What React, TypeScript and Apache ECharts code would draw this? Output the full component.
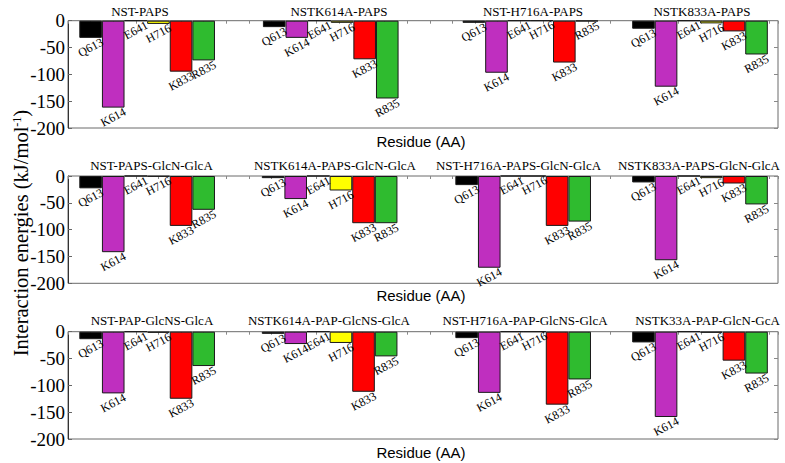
import React, { useEffect, useRef } from 'react';
import * as echarts from 'echarts';

// ---------- data ----------
const residues = ['Q613', 'K614', 'E641', 'H716', 'K833', 'R835'];

const row1Titles = ['NST-PAPS', 'NSTK614A-PAPS', 'NST-H716A-PAPS', 'NSTK833A-PAPS'];
const row2Titles = ['NST-PAPS-GlcN-GlcA', 'NSTK614A-PAPS-GlcN-GlcA', 'NST-H716A-PAPS-GlcN-GlcA', 'NSTK833A-PAPS-GlcN-GlcA'];
const row3Titles = ['NST-PAP-GlcNS-GlcA', 'NSTK614A-PAP-GlcNS-GlcA', 'NST-H716A-PAP-GlcNS-GlcA', 'NSTK33A-PAP-GlcN-GcA'];

// energies (kJ/mol) per panel, in residue order
const row1Values = [
  [-32, -162, 0, -6, -95, -74],
  [-12, -32, 0, -4, -72, -145],
  [-4, -97, 0, 0, -78, -1],
  [-15, -123, 0, -5, -20, -63],
];
const row2Values = [
  [-23, -142, 0, -1, -93, -63],
  [-4, -43, 0, -27, -88, -88],
  [-17, -171, 0, 0, -93, -85],
  [-12, -157, 0, -4, -14, -53],
];
const row3Values = [
  [-14, -115, 0, -2, -125, -64],
  [-4, -23, 0, -21, -112, -46],
  [-12, -114, 0, 0, -136, -89],
  [-20, -159, 0, -2, -54, -78],
];

// x position (residue-axis units) of first bar of each panel
const row1GroupX = [1, 9.12, 17.95, 25.45];
const row2GroupX = [1, 9.07, 17.63, 25.45];
const row3GroupX = [1, 9.07, 17.63, 25.45];

const yMin = -200;
const yMax = 0;
const yStep = 50;
const xMin = 0;
const xMax = 31.4;
const xLabel = 'Residue (AA)';
const yLabel = 'Interaction energies (kJ/mol{sup|-1})';

// ---------- styles / layout ----------
const residueColors = ['#000000', '#bf2fbf', '#3030ff', '#ffff00', '#ff0000', '#2fbb2f'];
const rowTops = [20.7, 176, 331.7];
const rowHeight = 107.3;
const titleYs = [11, 165, 320.5];
const titleXs = [
  [140, 339, 533, 702],
  [151.5, 335, 518.5, 699],
  [152, 329, 525, 707.5],
];
const xLabelYs = [141, 295.5, 452];
const SERIF = 'Liberation Serif';
const SANS = 'Liberation Sans';
const LABEL_ROT = (28 * Math.PI) / 180;

const rows = [
  { titles: row1Titles, values: row1Values, gx: row1GroupX },
  { titles: row2Titles, values: row2Values, gx: row2GroupX },
  { titles: row3Titles, values: row3Values, gx: row3GroupX },
];

function buildOption() {
  const grid: any[] = [];
  const xAxis: any[] = [];
  const yAxis: any[] = [];
  const series: any[] = [];
  const graphic: any[] = [];

  rows.forEach((row, r) => {
    grid.push({
      left: 68,
      width: 710,
      top: rowTops[r],
      height: rowHeight,
      show: true,
      borderColor: '#6a6a6a',
      borderWidth: 1,
      backgroundColor: 'transparent',
    });
    xAxis.push({
      type: 'value',
      gridIndex: r,
      min: xMin,
      max: xMax,
      interval: 1,
      axisLine: { show: false },
      axisTick: { show: true, inside: false, length: 3, lineStyle: { color: '#888' } },
      axisLabel: { show: false },
      splitLine: { show: false },
    });
    yAxis.push({
      type: 'value',
      gridIndex: r,
      min: yMin,
      max: yMax,
      interval: yStep,
      axisLine: { show: true, lineStyle: { color: '#333' } },
      axisTick: { show: true, inside: true, length: 4, lineStyle: { color: '#666' } },
      axisLabel: { show: true, fontFamily: SERIF, fontSize: 19, color: '#000', margin: 3 },
      splitLine: { show: false },
    });
    yAxis.push({
      type: 'value',
      gridIndex: r,
      position: 'right',
      min: yMin,
      max: yMax,
      interval: yStep,
      axisLine: { show: false },
      axisTick: { show: true, inside: true, length: 4, lineStyle: { color: '#888' } },
      axisLabel: { show: false },
      splitLine: { show: false },
    });

    const barData: any[] = [];
    row.values.forEach((vals, g) => {
      vals.forEach((v, k) => {
        barData.push({ value: [row.gx[g] + k, v], itemStyle: { color: residueColors[k] } });
      });
    });
    series.push({
      type: 'bar',
      xAxisIndex: r,
      yAxisIndex: r * 2,
      barWidth: 22.6,
      silent: true,
      z: 2,
      itemStyle: { borderColor: '#1a1a1a', borderWidth: 1 },
      data: barData,
    });

    row.titles.forEach((t, g) => {
      graphic.push({
        type: 'text',
        x: titleXs[r][g],
        y: titleYs[r],
        style: { text: t, fontFamily: SERIF, fontSize: 13, fill: '#000', align: 'center', verticalAlign: 'middle' },
      });
    });
    graphic.push({
      type: 'text',
      x: 421,
      y: xLabelYs[r],
      style: { text: xLabel, fontFamily: SANS, fontSize: 15, fill: '#000', align: 'center', verticalAlign: 'middle' },
    });
  });

  graphic.push({
    type: 'text',
    x: 21,
    y: 233,
    rotation: Math.PI / 2,
    style: {
      text: yLabel,
      fontFamily: SERIF,
      fontSize: 20.5,
      fill: '#000',
      align: 'center',
      verticalAlign: 'middle',
      rich: {
        sup: { fontSize: 12, fontFamily: SERIF, verticalAlign: 'top', fill: '#000' },
      },
    },
  });

  return { animation: false, grid, xAxis, yAxis, series, graphic };
}

function buildLabels(chart: any) {
  const out: any[] = [];
  rows.forEach((row, r) => {
    row.values.forEach((vals, g) => {
      vals.forEach((v, k) => {
        const pt = chart.convertToPixel({ xAxisIndex: r, yAxisIndex: r * 2 }, [row.gx[g] + k, v]);
        if (!pt) return;
        out.push({
          type: 'text',
          x: pt[0],
          y: pt[1] + 9.5,
          rotation: LABEL_ROT,
          z: 100,
          style: {
            text: residues[k],
            fontFamily: SERIF,
            fontSize: 12,
            fill: '#000',
            align: 'center',
            verticalAlign: 'middle',
          },
        });
      });
    });
  });
  return out;
}

export default function App() {
  const ref = useRef<HTMLDivElement>(null);
  useEffect(() => {
    document.body.style.margin = '0';
    if (!ref.current) return;
    const chart = echarts.init(ref.current, null, { renderer: 'svg' });
    const opt = buildOption();
    chart.setOption(opt as any);
    const labels = buildLabels(chart);
    chart.setOption({ graphic: [...opt.graphic, ...labels] } as any);
    return () => chart.dispose();
  }, []);
  return <div ref={ref} style={{ width: 785, height: 463, background: '#fff' }} />;
}
